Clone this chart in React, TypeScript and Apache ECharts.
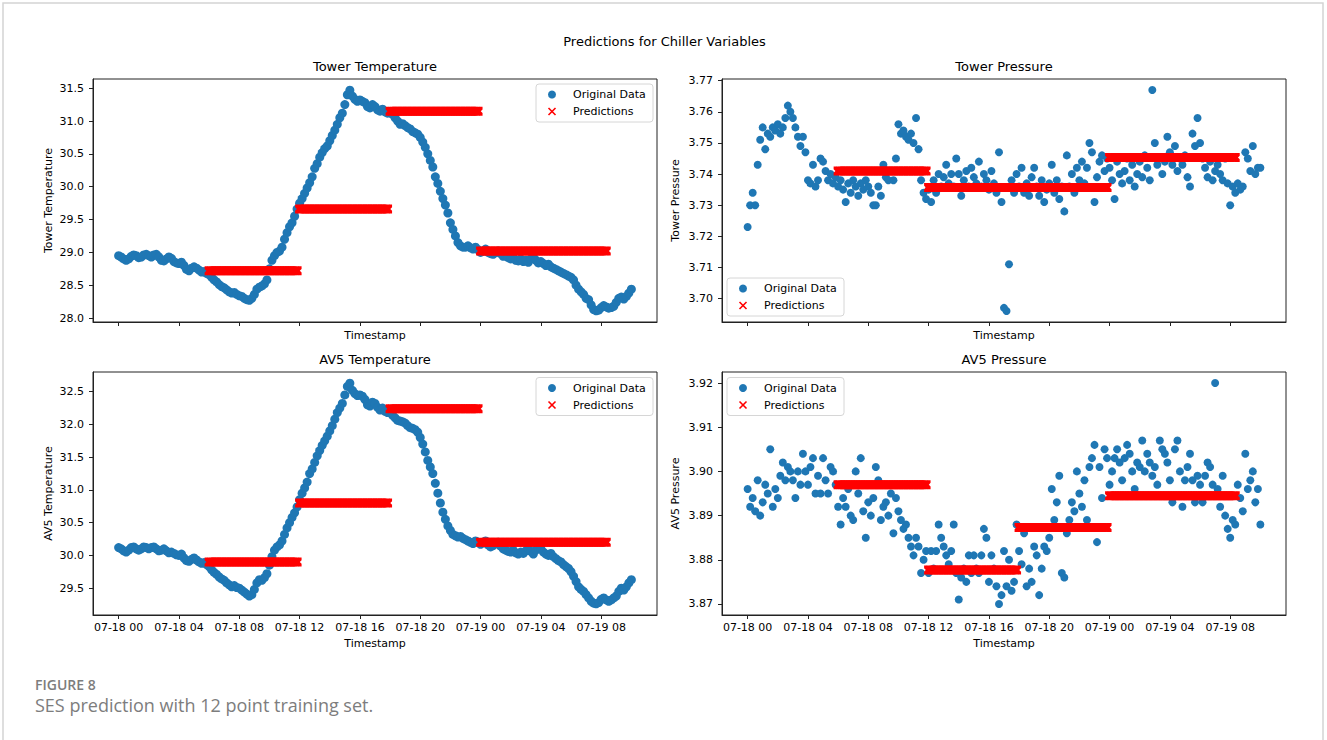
import React, { useEffect, useRef } from "react";
import * as echarts from "echarts";

// ---- time grid: 10-minute samples, hours after 07-18 00:00 ----
const SAMPLE_COUNT = 205;
const sampleHours = Array.from({ length: SAMPLE_COUNT }, (_, i) => i / 6);

const xTickHours = [0, 4, 8, 12, 16, 20, 24, 28, 32];
const xTickLabels = ["07-18 00", "07-18 04", "07-18 08", "07-18 12", "07-18 16", "07-18 20", "07-19 00", "07-19 04", "07-19 08"];

// ---- Original data ----
const towerTemp = [
  28.95, 28.93, 28.90, 28.88, 28.90, 28.94,
  28.96, 28.95, 28.92, 28.93, 28.96, 28.97,
  28.95, 28.93, 28.96, 28.97, 28.93, 28.88,
  28.87, 28.90, 28.93, 28.91, 28.86, 28.84,
  28.83, 28.85, 28.80, 28.74, 28.72, 28.76,
  28.78, 28.76, 28.73, 28.70, 28.71, 28.68,
  28.66, 28.62, 28.58, 28.55, 28.51, 28.48,
  28.46, 28.43, 28.40, 28.38, 28.39, 28.36,
  28.34, 28.33, 28.30, 28.28, 28.27, 28.30,
  28.36, 28.44, 28.47, 28.49, 28.52, 28.58,
  28.75, 28.88, 28.95, 29.00, 29.02, 29.08,
  29.20, 29.30, 29.39, 29.45, 29.55, 29.66,
  29.75, 29.82, 29.90, 29.98, 30.06, 30.15,
  30.28, 30.35, 30.45, 30.52, 30.58, 30.62,
  30.70, 30.78, 30.86, 30.95, 31.05, 31.12,
  31.25, 31.40, 31.47, 31.38, 31.33, 31.30,
  31.32, 31.30, 31.28, 31.22, 31.20, 31.25,
  31.22, 31.17, 31.15, 31.18, 31.14, 31.12,
  31.14, 31.10, 31.05, 31.00, 30.95, 30.96,
  30.93, 30.90, 30.88, 30.84, 30.82, 30.80,
  30.75, 30.68, 30.60, 30.50, 30.40, 30.30,
  30.15, 30.05, 29.93, 29.82, 29.72, 29.60,
  29.45, 29.35, 29.25, 29.15, 29.10, 29.08,
  29.08, 29.10, 29.07, 29.05, 29.08, 29.04,
  29.00, 29.02, 29.05, 29.00, 28.98, 28.97,
  29.00, 29.02, 28.98, 28.94, 28.95, 28.92,
  28.90, 28.92, 28.88, 28.87, 28.90, 28.86,
  28.88, 28.85, 28.90, 28.93, 28.88, 28.84,
  28.86, 28.83, 28.80, 28.82, 28.78, 28.76,
  28.74, 28.72, 28.70, 28.68, 28.66, 28.64,
  28.62, 28.58, 28.50, 28.44, 28.40, 28.36,
  28.30, 28.28, 28.20, 28.13, 28.11, 28.12,
  28.16, 28.19, 28.17, 28.15, 28.16, 28.18,
  28.24, 28.30, 28.32, 28.29, 28.33, 28.38,
  28.44,
];

const av5Temp = [
  30.12, 30.10, 30.07, 30.05, 30.08, 30.12,
  30.13, 30.10, 30.08, 30.10, 30.13, 30.12,
  30.10, 30.12, 30.13, 30.10, 30.07, 30.08,
  30.10, 30.07, 30.04, 30.05, 30.03, 30.01,
  30.00, 30.02, 29.96, 29.92, 29.91, 29.94,
  29.96, 29.93, 29.90, 29.88, 29.89, 29.86,
  29.83, 29.78, 29.74, 29.71, 29.67, 29.64,
  29.62, 29.58, 29.55, 29.52, 29.54, 29.51,
  29.50, 29.47, 29.44, 29.41, 29.38, 29.40,
  29.48, 29.58, 29.63, 29.62, 29.66, 29.72,
  29.85, 29.98, 30.08, 30.13, 30.16, 30.22,
  30.32, 30.42, 30.50, 30.58, 30.65, 30.74,
  30.85, 30.95, 31.03, 31.12, 31.25, 31.32,
  31.42, 31.52, 31.60, 31.68, 31.75, 31.82,
  31.90, 31.98, 32.08, 32.18, 32.25, 32.32,
  32.45, 32.58, 32.63, 32.52, 32.47, 32.44,
  32.45, 32.43, 32.38, 32.30, 32.28, 32.34,
  32.32, 32.26, 32.22, 32.25, 32.20, 32.18,
  32.20, 32.14, 32.10, 32.06, 32.05, 32.04,
  32.02, 31.98, 31.95, 31.94, 31.92, 31.88,
  31.80, 31.70, 31.58, 31.45, 31.35, 31.25,
  31.10, 30.95, 30.80, 30.66, 30.55, 30.45,
  30.38, 30.32, 30.30, 30.28, 30.29, 30.26,
  30.24, 30.22, 30.20, 30.18, 30.22, 30.20,
  30.17, 30.20, 30.22, 30.16, 30.13, 30.15,
  30.18, 30.20, 30.14, 30.10, 30.08, 30.06,
  30.05, 30.08, 30.04, 30.02, 30.05, 30.03,
  30.07, 30.10, 30.06, 30.02, 30.08, 30.12,
  30.10, 30.05, 30.02, 30.00, 30.03, 29.98,
  29.95, 29.92, 29.90, 29.86, 29.83, 29.80,
  29.75, 29.68, 29.60, 29.52, 29.48, 29.45,
  29.40, 29.35, 29.30, 29.27, 29.26, 29.28,
  29.33, 29.35, 29.32, 29.30, 29.32, 29.35,
  29.38, 29.45, 29.50, 29.47, 29.52, 29.58,
  29.63,
];

const towerPressure = [
  3.723, 3.730, 3.734, 3.730, 3.743, 3.751,
  3.755, 3.748, 3.753, 3.752, 3.755, 3.754,
  3.756, 3.753, 3.755, 3.758, 3.762, 3.760,
  3.758, 3.755, 3.752, 3.749, 3.752, 3.747,
  3.738, 3.737, 3.743, 3.736, 3.738, 3.745,
  3.744, 3.741, 3.738, 3.740, 3.737, 3.739,
  3.736, 3.738, 3.735, 3.731, 3.737, 3.734,
  3.738, 3.736, 3.733, 3.737, 3.735, 3.738,
  3.736, 3.734, 3.730, 3.730, 3.736, 3.733,
  3.743, 3.739, 3.738, 3.741, 3.738, 3.745,
  3.756, 3.753, 3.754, 3.752, 3.751, 3.753,
  3.750, 3.758, 3.748, 3.738, 3.734, 3.732,
  3.735, 3.731, 3.738, 3.734, 3.740, 3.736,
  3.739, 3.743, 3.737, 3.740, 3.736, 3.745,
  3.740, 3.733, 3.738, 3.741, 3.736, 3.742,
  3.739, 3.737, 3.744, 3.736, 3.740, 3.738,
  3.735, 3.741, 3.737, 3.734, 3.747, 3.731,
  3.697, 3.696, 3.711, 3.738, 3.734, 3.740,
  3.736, 3.742, 3.734, 3.737, 3.733, 3.739,
  3.742, 3.736, 3.733, 3.738, 3.731, 3.735,
  3.737, 3.743, 3.734, 3.738, 3.732, 3.736,
  3.728, 3.746, 3.736, 3.740, 3.734, 3.742,
  3.738, 3.744, 3.737, 3.742, 3.750, 3.747,
  3.731, 3.739, 3.744, 3.746, 3.741, 3.745,
  3.742, 3.738, 3.732, 3.744, 3.740, 3.737,
  3.741, 3.745, 3.738, 3.743, 3.736, 3.740,
  3.744, 3.739, 3.746, 3.742, 3.738, 3.767,
  3.750, 3.743, 3.745, 3.740, 3.744, 3.752,
  3.747, 3.743, 3.749, 3.741, 3.745, 3.743,
  3.746, 3.739, 3.736, 3.753, 3.749, 3.758,
  3.750, 3.745, 3.742, 3.739, 3.744, 3.738,
  3.741, 3.743, 3.740, 3.738, 3.745, 3.737,
  3.730, 3.736, 3.734, 3.737, 3.735, 3.736,
  3.747, 3.745, 3.741, 3.749, 3.740, 3.742,
  3.742,
];

const av5Pressure = [
  3.896, 3.892, 3.894, 3.891, 3.898, 3.890,
  3.893, 3.897, 3.895, 3.905, 3.892, 3.896,
  3.894, 3.899, 3.902, 3.898, 3.901, 3.900,
  3.898, 3.894, 3.900, 3.897, 3.904, 3.900,
  3.897, 3.901, 3.903, 3.895, 3.899, 3.895,
  3.903, 3.898, 3.895, 3.901, 3.900, 3.897,
  3.892, 3.888, 3.894, 3.892, 3.896, 3.890,
  3.889, 3.900, 3.895, 3.903, 3.891, 3.885,
  3.893, 3.890, 3.894, 3.901, 3.898, 3.889,
  3.892, 3.893, 3.890, 3.895, 3.886, 3.894,
  3.891, 3.889, 3.887, 3.888, 3.885, 3.883,
  3.881, 3.885, 3.883, 3.877, 3.880, 3.882,
  3.877, 3.882, 3.878, 3.882, 3.888, 3.885,
  3.883, 3.881, 3.879, 3.882, 3.888, 3.877,
  3.871, 3.876, 3.878, 3.875, 3.881, 3.877,
  3.881, 3.878, 3.877, 3.881, 3.887, 3.885,
  3.875, 3.881, 3.878, 3.874, 3.870, 3.872,
  3.882, 3.874, 3.880, 3.873, 3.875, 3.888,
  3.882, 3.879, 3.886, 3.874, 3.878, 3.875,
  3.883, 3.881, 3.872, 3.878, 3.883, 3.882,
  3.885, 3.896, 3.889, 3.893, 3.899, 3.877,
  3.876, 3.886, 3.889, 3.893, 3.891, 3.900,
  3.895, 3.892, 3.898, 3.889, 3.901, 3.903,
  3.906, 3.884, 3.901, 3.894, 3.905, 3.903,
  3.897, 3.900, 3.903, 3.905, 3.902, 3.898,
  3.903, 3.906, 3.904, 3.900, 3.896, 3.902,
  3.901, 3.907, 3.900, 3.904, 3.902, 3.899,
  3.901, 3.897, 3.907, 3.905, 3.904, 3.902,
  3.898, 3.893, 3.905, 3.907, 3.900, 3.892,
  3.898, 3.901, 3.904, 3.898, 3.893, 3.899,
  3.897, 3.893, 3.899, 3.902, 3.901, 3.897,
  3.920, 3.896, 3.892, 3.899, 3.890, 3.887,
  3.885, 3.889, 3.888, 3.897, 3.894, 3.891,
  3.904, 3.896, 3.898, 3.900, 3.893, 3.896,
  3.888,
];

// ---- SES predictions: constant forecast per window (start hour, end hour, value) ----
const towerTempPredStart = [6, 12, 18, 24];
const towerTempPredEnd = [11.84, 17.84, 23.84, 32.34];
const towerTempPredValue = [28.72, 29.66, 31.15, 29.02];

const towerPresPredStart = [6, 12, 24];
const towerPresPredEnd = [11.84, 23.84, 32.34];
const towerPresPredValue = [3.741, 3.7357, 3.7453];

const av5TempPredStart = [6, 12, 18, 24];
const av5TempPredEnd = [11.84, 17.84, 23.84, 32.34];
const av5TempPredValue = [29.9, 30.8, 32.24, 30.2];

const av5PresPredStart = [6, 12, 18, 24];
const av5PresPredEnd = [11.84, 17.84, 23.84, 32.34];
const av5PresPredValue = [3.897, 3.8777, 3.8873, 3.8945];

// ---- axis ticks ----
const towerTempTicks = [28.0, 28.5, 29.0, 29.5, 30.0, 30.5, 31.0, 31.5];
const towerPresTicks = [3.70, 3.71, 3.72, 3.73, 3.74, 3.75, 3.76, 3.77];
const av5TempTicks = [29.5, 30.0, 30.5, 31.0, 31.5, 32.0, 32.5];
const av5PresTicks = [3.87, 3.88, 3.89, 3.90, 3.91, 3.92];

const panelTitles = ["Tower Temperature", "Tower Pressure", "AV5 Temperature", "AV5 Pressure"];

const BLUE = "#1f77b4";
const RED = "#ff0000";
const FONT = "DejaVu Sans";
const AXIS_COLOR = "#222";
const X_PATH =
  "path://M0,0 L3,0 L5,2 L7,0 L10,0 L10,3 L8,5 L10,7 L10,10 L7,10 L5,8 L3,10 L0,10 L0,7 L2,5 L0,3 Z";

function expandPred(starts: number[], ends: number[], values: number[]) {
  const pts: number[][] = [];
  starts.forEach((s, k) => {
    sampleHours.forEach((h) => {
      if (h >= s - 1e-6 && h <= ends[k] + 1e-6) pts.push([h, values[k]]);
    });
  });
  return pts;
}

function xLabel(v: number) {
  const i = xTickHours.indexOf(Math.round(v));
  return i >= 0 ? xTickLabels[i] : "";
}

export default function App() {
  const ref = useRef<HTMLDivElement>(null);

  useEffect(() => {
    document.body.style.margin = "0";
    if (!ref.current) return;
    const chart = echarts.init(ref.current, undefined, { renderer: "svg" });

    const grids = [
      { left: 93, top: 79, width: 564, height: 243 },
      { left: 722, top: 79, width: 564, height: 243 },
      { left: 93, top: 372, width: 564, height: 243 },
      { left: 722, top: 372, width: 564, height: 243 },
    ];
    const yRanges = [
      { min: 27.94, max: 31.64, ticks: towerTempTicks, dec: 1 },
      { min: 3.69245, max: 3.77055, ticks: towerPresTicks, dec: 2 },
      { min: 29.09, max: 32.8, ticks: av5TempTicks, dec: 1 },
      { min: 3.8675, max: 3.9225, ticks: av5PresTicks, dec: 2 },
    ];
    const dataSets = [towerTemp, towerPressure, av5Temp, av5Pressure];
    const dotSizes = [9, 8, 9, 8];
    const preds = [
      expandPred(towerTempPredStart, towerTempPredEnd, towerTempPredValue),
      expandPred(towerPresPredStart, towerPresPredEnd, towerPresPredValue),
      expandPred(av5TempPredStart, av5TempPredEnd, av5TempPredValue),
      expandPred(av5PresPredStart, av5PresPredEnd, av5PresPredValue),
    ];

    const textStyleBase = { fontFamily: FONT, fill: "#000" };

    const graphics: any[] = [
      {
        type: "rect",
        shape: { x: 3, y: 3, width: 1320, height: 780 },
        style: { fill: "none", stroke: "#d4d4d4", lineWidth: 1.5 },
        silent: true,
      },
      {
        type: "text",
        x: 664.5,
        y: 41,
        style: { ...textStyleBase, text: "Predictions for Chiller Variables", fontSize: 13, align: "center", verticalAlign: "middle" },
      },
      {
        type: "text",
        x: 35,
        y: 684,
        style: { text: "FIGURE 8", fontFamily: "Open Sans", fontSize: 14, fontWeight: 600, fill: "#7d7d7d", align: "left", verticalAlign: "middle" },
      },
      {
        type: "text",
        x: 35,
        y: 705,
        style: { text: "SES prediction with 12 point training set.", fontFamily: "Open Sans", fontSize: 18, fill: "#7d7d7d", align: "left", verticalAlign: "middle" },
      },
    ];

    const yNames = ["Tower Temperature", "Tower Pressure", "AV5 Temperature", "AV5 Pressure"];
    const yNameX = [48, 675, 48, 675];
    const legendPos = [
      [536, 84],
      [727, 278],
      [536, 377.5],
      [727, 377.5],
    ];

    grids.forEach((g, i) => {
      const cx = g.left + g.width / 2;
      const cy = g.top + g.height / 2;
      graphics.push({
        type: "text",
        x: cx,
        y: g.top - 12.5,
        style: { ...textStyleBase, text: panelTitles[i], fontSize: 13, align: "center", verticalAlign: "middle" },
      });
      graphics.push({
        type: "text",
        x: cx,
        y: g.top + g.height + 13 + (i >= 2 ? 15.5 : 0),
        style: { ...textStyleBase, text: "Timestamp", fontSize: 11, align: "center", verticalAlign: "middle" },
      });
      graphics.push({
        type: "text",
        x: yNameX[i],
        y: cy,
        rotation: Math.PI / 2,
        style: { ...textStyleBase, text: yNames[i], fontSize: 11, align: "center", verticalAlign: "middle" },
      });
      const [lx, ly] = legendPos[i];
      const r1 = ly + 10.5;
      const r2 = ly + 27.5;
      const mx = lx + 16;
      graphics.push({
        type: "group",
        z: 100,
        children: [
          {
            type: "rect",
            shape: { x: lx, y: ly, width: 117, height: 38, r: 3 },
            style: { fill: "rgba(255,255,255,0.8)", stroke: "#d6d6d6", lineWidth: 1 },
          },
          { type: "circle", shape: { cx: mx, cy: r1, r: 4 }, style: { fill: BLUE } },
          { type: "line", shape: { x1: mx - 3.5, y1: r2 - 3.5, x2: mx + 3.5, y2: r2 + 3.5 }, style: { stroke: RED, lineWidth: 1.6 } },
          { type: "line", shape: { x1: mx - 3.5, y1: r2 + 3.5, x2: mx + 3.5, y2: r2 - 3.5 }, style: { stroke: RED, lineWidth: 1.6 } },
          {
            type: "text",
            x: lx + 37,
            y: r1,
            style: { ...textStyleBase, text: "Original Data", fontSize: 11, align: "left", verticalAlign: "middle" },
          },
          {
            type: "text",
            x: lx + 37,
            y: r2,
            style: { ...textStyleBase, text: "Predictions", fontSize: 11, align: "left", verticalAlign: "middle" },
          },
        ],
      });
    });

    const option: any = {
      animation: false,
      backgroundColor: "#fff",
      grid: grids.map((g) => ({ ...g, show: true, borderColor: AXIS_COLOR, borderWidth: 1, backgroundColor: "transparent" })),
      xAxis: grids.map((_, i) => ({
        type: "value",
        gridIndex: i,
        min: -1.7,
        max: 35.7,
        axisLine: { show: true, onZero: false, lineStyle: { color: AXIS_COLOR, width: 1 } },
        axisTick: { show: true, inside: false, length: 4, customValues: xTickHours, lineStyle: { color: AXIS_COLOR, width: 1 } },
        axisLabel: {
          show: i >= 2,
          customValues: xTickHours,
          formatter: (v: number) => xLabel(v),
          fontSize: 11,
          fontFamily: FONT,
          color: "#000",
          margin: 7,
        },
        splitLine: { show: false },
      })),
      yAxis: yRanges.map((r, i) => ({
        type: "value",
        gridIndex: i,
        min: r.min,
        max: r.max,
        axisLine: { show: true, onZero: false, lineStyle: { color: AXIS_COLOR, width: 1 } },
        axisTick: { show: true, inside: false, length: 4, customValues: r.ticks, lineStyle: { color: AXIS_COLOR, width: 1 } },
        axisLabel: {
          customValues: r.ticks,
          formatter: (v: number) => v.toFixed(r.dec),
          fontSize: 11,
          fontFamily: FONT,
          color: "#000",
          margin: 9,
        },
        splitLine: { show: false },
      })),
      series: [
        ...dataSets.map((vals, i) => ({
          type: "scatter",
          name: "Original Data",
          xAxisIndex: i,
          yAxisIndex: i,
          symbol: "circle",
          symbolSize: dotSizes[i],
          itemStyle: { color: BLUE, opacity: 1 },
          silent: true,
          z: 2,
          data: sampleHours.map((h, k) => [h, vals[k]]),
        })),
        ...preds.map((pts, i) => ({
          type: "scatter",
          name: "Predictions",
          xAxisIndex: i,
          yAxisIndex: i,
          symbol: X_PATH,
          symbolSize: 9,
          itemStyle: { color: RED, opacity: 1 },
          silent: true,
          z: 3,
          data: pts,
        })),
      ],
      graphic: graphics,
    };

    chart.setOption(option);
    return () => chart.dispose();
  }, []);

  return (
    <div
      ref={ref}
      style={{ position: "absolute", left: 0, top: 0, width: 1327, height: 740, overflow: "hidden", background: "#fff" }}
    />
  );
}
